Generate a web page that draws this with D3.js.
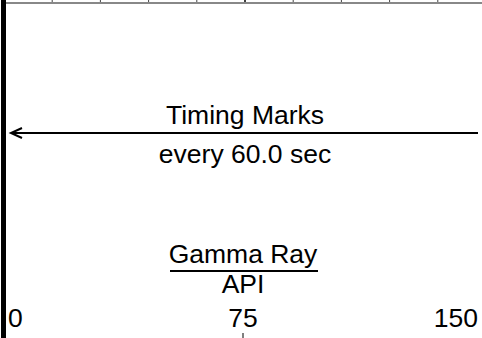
<!DOCTYPE html>
<html>
<head>
<meta charset="utf-8">
<script src="https://cdn.jsdelivr.net/npm/d3@7"></script>
<style>
  html, body { margin: 0; padding: 0; background: #fff; }
  svg { display: block; }
  text { font-family: "Liberation Sans", Arial, sans-serif; fill: #000; }
</style>
</head>
<body>
<svg id="chart"></svg>
<script>
// track scale (API) and header entries
const gridValues = d3.range(0, 151, 15);
const tickLabels = [0, 75, 150];
const timingTitle = 'Timing Marks';
const timingInterval = 60.0;
const curveName = 'Gamma Ray';
const curveUnit = 'API';

const width = 482;
const height = 338;
const fontSize = 26.5;

const svg = d3.select('#chart')
  .attr('width', width)
  .attr('height', height);

const x = d3.scaleLinear()
  .domain([0, 150])
  .range([4, 486]);

// bottom of the log track, cut at the top edge
svg.append('g')
  .selectAll('line')
  .data(gridValues)
  .enter()
  .append('line')
  .attr('x1', d => x(d))
  .attr('x2', d => x(d))
  .attr('y1', 0)
  .attr('y2', 3)
  .attr('stroke', d => d === 75 ? '#000' : '#444')
  .attr('stroke-width', d => d === 75 ? 1.5 : 1);

svg.append('line')
  .attr('x1', x(0)).attr('x2', width)
  .attr('y1', 3).attr('y2', 3)
  .attr('stroke', '#888')
  .attr('stroke-width', 2);

// timing marks header
svg.append('text')
  .attr('x', x(75))
  .attr('y', 124)
  .attr('text-anchor', 'middle')
  .style('font-size', fontSize + 'px')
  .text(timingTitle);

const arrowY = 133;
svg.append('line')
  .attr('x1', x(0) + 7).attr('x2', x(150) - 8)
  .attr('y1', arrowY).attr('y2', arrowY)
  .attr('stroke', '#000')
  .attr('stroke-width', 2);

svg.append('path')
  .attr('d', `M${x(0) + 18},${arrowY - 5} L${x(0) + 7},${arrowY} L${x(0) + 18},${arrowY + 5}`)
  .attr('fill', 'none')
  .attr('stroke', '#000')
  .attr('stroke-width', 2);

svg.append('text')
  .attr('x', x(75))
  .attr('y', 163)
  .attr('text-anchor', 'middle')
  .style('font-size', fontSize + 'px')
  .text(`every ${timingInterval.toFixed(1)} sec`);

// curve header
svg.append('text')
  .attr('x', x(75) - 2)
  .attr('y', 263)
  .attr('text-anchor', 'middle')
  .style('font-size', fontSize + 'px')
  .text(curveName);

svg.append('line')
  .attr('x1', x(75) - 75).attr('x2', x(75) + 73)
  .attr('y1', 271).attr('y2', 271)
  .attr('stroke', '#000')
  .attr('stroke-width', 2);

svg.append('text')
  .attr('x', x(75) - 2)
  .attr('y', 293)
  .attr('text-anchor', 'middle')
  .style('font-size', fontSize + 'px')
  .text(curveUnit);

svg.append('g')
  .selectAll('text')
  .data(tickLabels)
  .enter()
  .append('text')
  .attr('x', (d, i) => i === 0 ? x(d) + 4 : i === tickLabels.length - 1 ? x(d) - 8 : x(d) - 2)
  .attr('y', 327)
  .attr('text-anchor', (d, i) => i === 0 ? 'start' : i === tickLabels.length - 1 ? 'end' : 'middle')
  .style('font-size', fontSize + 'px')
  .text(d => d);

svg.append('line')
  .attr('x1', x(75) - 2).attr('x2', x(75) - 2)
  .attr('y1', 333).attr('y2', 338)
  .attr('stroke', '#000')
  .attr('stroke-width', 1);

// thick track border on the left
svg.append('line')
  .attr('x1', 3.5).attr('x2', 3.5)
  .attr('y1', 0).attr('y2', height)
  .attr('stroke', '#000')
  .attr('stroke-width', 5);
</script>
</body>
</html>
